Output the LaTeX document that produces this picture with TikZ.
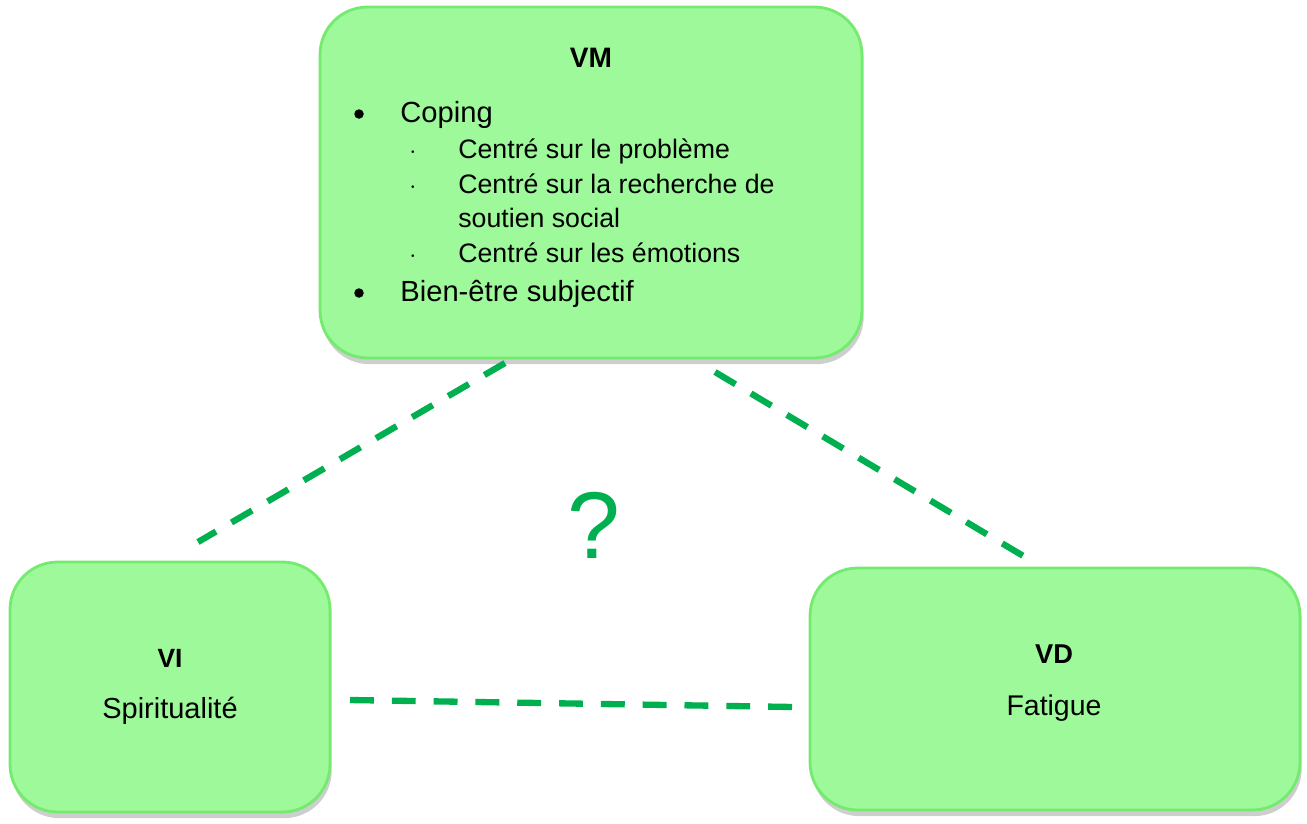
\documentclass[tikz,border=0pt]{standalone}
\usepackage{fontspec}
\setmainfont{Liberation Sans}
\usetikzlibrary{shadows}
\definecolor{boxfill}{HTML}{9DF99A}
\definecolor{boxedge}{HTML}{74EB6E}
\definecolor{linkgreen}{HTML}{00B050}

\tikzset{
  var/.style={draw=boxedge, line width=1.6pt, fill=boxfill, rounded corners=27pt,
    drop shadow={shadow xshift=1pt, shadow yshift=-3.5pt, opacity=0.35, fill=black!55}},
  link/.style={linkgreen, line width=3.6pt, dash pattern=on 13.6pt off 10.2pt},
  dot/.style={circle, fill=black, inner sep=0pt, minimum size=0.19cm},
  item/.style={anchor=base west, inner sep=0pt, font=\fontsize{16.6}{19}\selectfont},
  subitem/.style={anchor=base west, inner sep=0pt, font=\fontsize{15.2}{18}\selectfont},
}

\begin{document}
\begin{tikzpicture}[x=0.02cm, y=-0.02cm]
\useasboundingbox (0,0) rectangle (1307,823);

% boxes
\node[var, minimum width=10.84cm, minimum height=7.02cm] (vm) at (591,182.5) {};
\node[var, minimum width=6.4cm, minimum height=5cm] (vi) at (170,687) {};
\node[var, minimum width=9.8cm, minimum height=4.84cm] (vd) at (1055,689) {};

% VM content
\node[anchor=base, font=\fontsize{16}{19}\selectfont\bfseries] (vmtitle) at (591,67) {VM};
\node[dot] (b1) at (359,114) {};
\node[item] (coping) at (400,122) {Coping};
\foreach \y/\txt [count=\i] in {158/Centré sur le problème, 193/Centré sur la recherche de, 262/Centré sur les émotions}{
  \node[anchor=base, font=\fontsize{15.2}{18}\selectfont] (d\i) at (413,\y) {$\cdot$};
  \node[subitem] (s\i) at (458,\y) {\txt};
}
\node[subitem] (s4) at (458,227) {soutien social};
\node[dot] (b2) at (359,293) {};
\node[item] (bien) at (400,301) {Bien-être subjectif};

% VI and VD content
\node[anchor=base, font=\fontsize{15}{18}\selectfont\bfseries] (vititle) at (170,667) {VI};
\node[anchor=base, font=\fontsize{16.5}{19}\selectfont] (vitext) at (170,718) {Spiritualité};
\node[anchor=base, font=\fontsize{15.5}{18}\selectfont\bfseries] (vdtitle) at (1054,663) {VD};
\node[anchor=base, font=\fontsize{16.2}{19}\selectfont] (vdtext) at (1054,715) {Fatigue};

% links
\coordinate (vmleft) at (505,363);
\coordinate (vileft) at (198,542);
\coordinate (vmright) at (715,372);
\coordinate (vdright) at (1025,557);
\coordinate (vibottom) at (350,700);
\coordinate (vdbottom) at (794,707);
\draw[link] (vmleft) -- (vileft);
\draw[link] (vmright) -- (vdright);
\draw[link] (vibottom) -- (vdbottom);

\node[anchor=base, text=linkgreen, font=\fontsize{54}{60}\selectfont] (quest) at (594,558) {?};
\end{tikzpicture}
\end{document}
